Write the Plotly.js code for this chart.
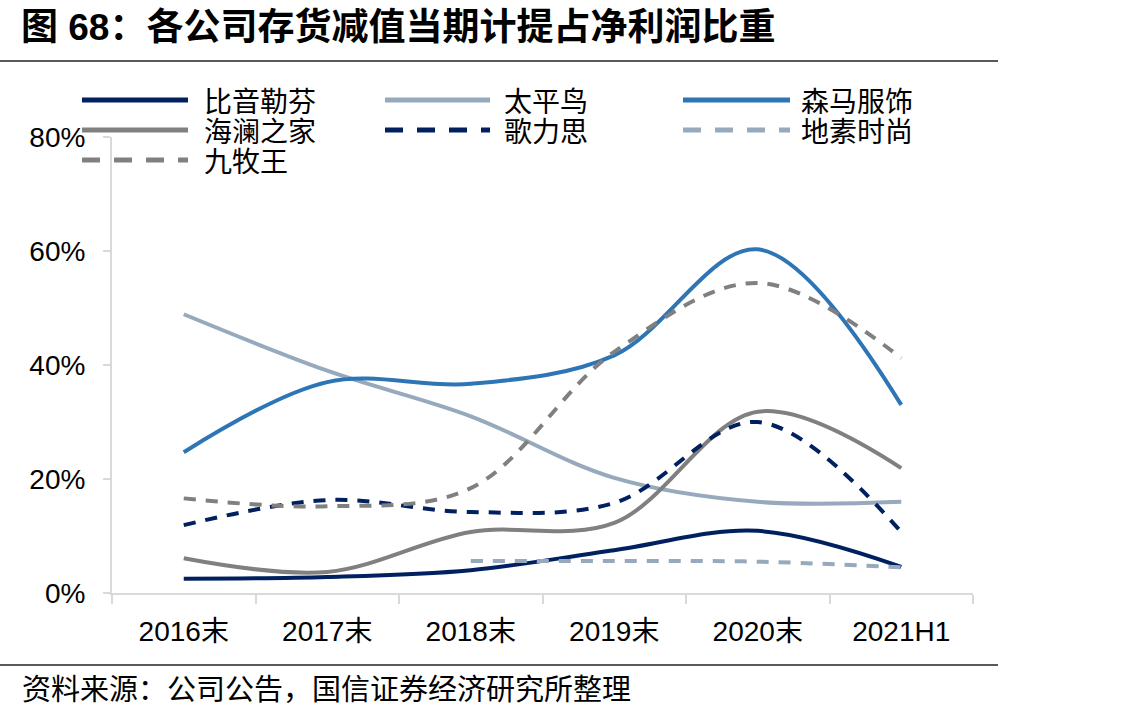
<!DOCTYPE html>
<html><head><meta charset="utf-8">
<script src="https://cdn.plot.ly/plotly-3.0.1.min.js"></script>
<style>html,body{margin:0;padding:0;background:#fff;} #chart{width:1138px;height:716px;}</style>
</head><body><div id="chart"></div>
<script>
const categories = ['2016末','2017末','2018末','2019末','2020末','2021H1'];
const biyinlefen = [2.5, 2.8, 4.0, 7.5, 10.9, 4.6];
const taipingniao = [48.9, 39.0, 31.0, 20.2, 16.0, 16.0];
const senma = [24.7, 37.0, 36.7, 41.7, 60.3, 33.0];
const hailan = [6.1, 3.7, 10.7, 12.3, 31.8, 21.9];
const gelisi = [11.9, 16.3, 14.2, 15.8, 30.0, 10.7];
const disu = [null, null, 5.6, 5.6, 5.5, 4.5];
const jiumuwang = [16.6, 15.2, 18.4, 42.3, 54.4, 41.2];
const seriesNames = ['比音勒芬','太平鸟','森马服饰','海澜之家','歌力思','地素时尚','九牧王'];
const seriesValues = [biyinlefen, taipingniao, senma, hailan, gelisi, disu, jiumuwang];
const yTicks = [0, 20, 40, 60, 80];
const titleText = '图 68：各公司存货减值当期计提占净利润比重';
const sourceText = '资料来源：公司公告，国信证券经济研究所整理';

const colors = ['#002060','#97a9bd','#2e75b6','#808080','#002060','#97a9bd','#808080'];
const dashes = ['solid','solid','solid','solid','12px,10px','12px,10px','12px,10px'];
const legendDashes = ['solid','solid','solid','solid','18px,14px','18px,14px','18px,14px'];

// plot area in px
const W = 1138, H = 716, L = 112, R = 973, T = 137, B = 593;
const px2x = p => (p - L) / (R - L);
const px2y = p => (B - p) / (B - T);

const traces = seriesNames.map((n, i) => ({
  type: 'scatter', mode: 'lines', name: n, x: categories, y: seriesValues[i],
  line: {color: colors[i], width: 4, dash: dashes[i], shape: 'spline', smoothing: 1},
  connectgaps: false, showlegend: false, hoverinfo: 'skip'
}));

const cjk = '"Noto Sans CJK SC", "Liberation Sans", sans-serif';
const latin = '"Liberation Sans", Arial, "Noto Sans CJK SC", sans-serif';

const shapes = [];
const annotations = [];
// legend
const colLine = [[82, 188], [385, 490], [683, 790]];
const colText = [202, 502, 799];
const rowY = [100, 130, 160];
seriesNames.forEach((n, i) => {
  const c = i % 3, r = Math.floor(i / 3);
  shapes.push({type: 'line', xref: 'paper', yref: 'paper',
    x0: px2x(colLine[c][0]), x1: px2x(colLine[c][1]), y0: px2y(rowY[r]), y1: px2y(rowY[r]),
    line: {color: colors[i], width: 5, dash: legendDashes[i]}});
  annotations.push({xref: 'paper', yref: 'paper', x: px2x(colText[c]), y: px2y(rowY[r]),
    xanchor: 'left', yanchor: 'middle', showarrow: false, text: n, height: 28, valign: 'middle',
    font: {family: cjk, size: 28, color: '#000'}});
});
// title and rules
annotations.push({xref: 'paper', yref: 'paper', x: px2x(19), y: px2y(27), xanchor: 'left', yanchor: 'middle',
  showarrow: false, text: '<b>' + titleText + '</b>', font: {family: latin, size: 37, color: '#000'}});
annotations.push({xref: 'paper', yref: 'paper', x: px2x(20), y: px2y(687), xanchor: 'left', yanchor: 'middle',
  showarrow: false, text: sourceText, font: {family: cjk, size: 29, color: '#000'}});
shapes.push({type: 'line', xref: 'paper', yref: 'paper', x0: px2x(0), x1: px2x(998), y0: px2y(61), y1: px2y(61),
  line: {color: '#595959', width: 2}});
shapes.push({type: 'line', xref: 'paper', yref: 'paper', x0: px2x(0), x1: px2x(998), y0: px2y(665), y1: px2y(665),
  line: {color: '#595959', width: 2}});

const layout = {
  width: W, height: H, margin: {l: L, r: W - R, t: T, b: H - B, pad: 0},
  paper_bgcolor: '#fff', plot_bgcolor: '#fff', showlegend: false,
  xaxis: {type: 'category', range: [-0.5, 5.5], showgrid: false, zeroline: false,
    showline: true, linecolor: '#d9d9d9', linewidth: 2, ticks: 'outside', ticklen: 9, tickwidth: 2,
    tickcolor: '#d9d9d9', tickson: 'boundaries', ticklabelstandoff: 12,
    tickfont: {family: latin, size: 28, color: '#000'}},
  yaxis: {range: [0, 80], tickvals: yTicks, ticktext: yTicks.map(v => v + '%'), showgrid: false, zeroline: false,
    showline: true, linecolor: '#d9d9d9', linewidth: 2, ticks: 'outside', ticklen: 7, tickwidth: 2,
    tickcolor: '#d9d9d9', ticklabelstandoff: 12,
    tickfont: {family: latin, size: 28, color: '#000'}},
  shapes: shapes, annotations: annotations
};
Plotly.newPlot('chart', traces, layout, {staticPlot: true});
</script></body></html>
